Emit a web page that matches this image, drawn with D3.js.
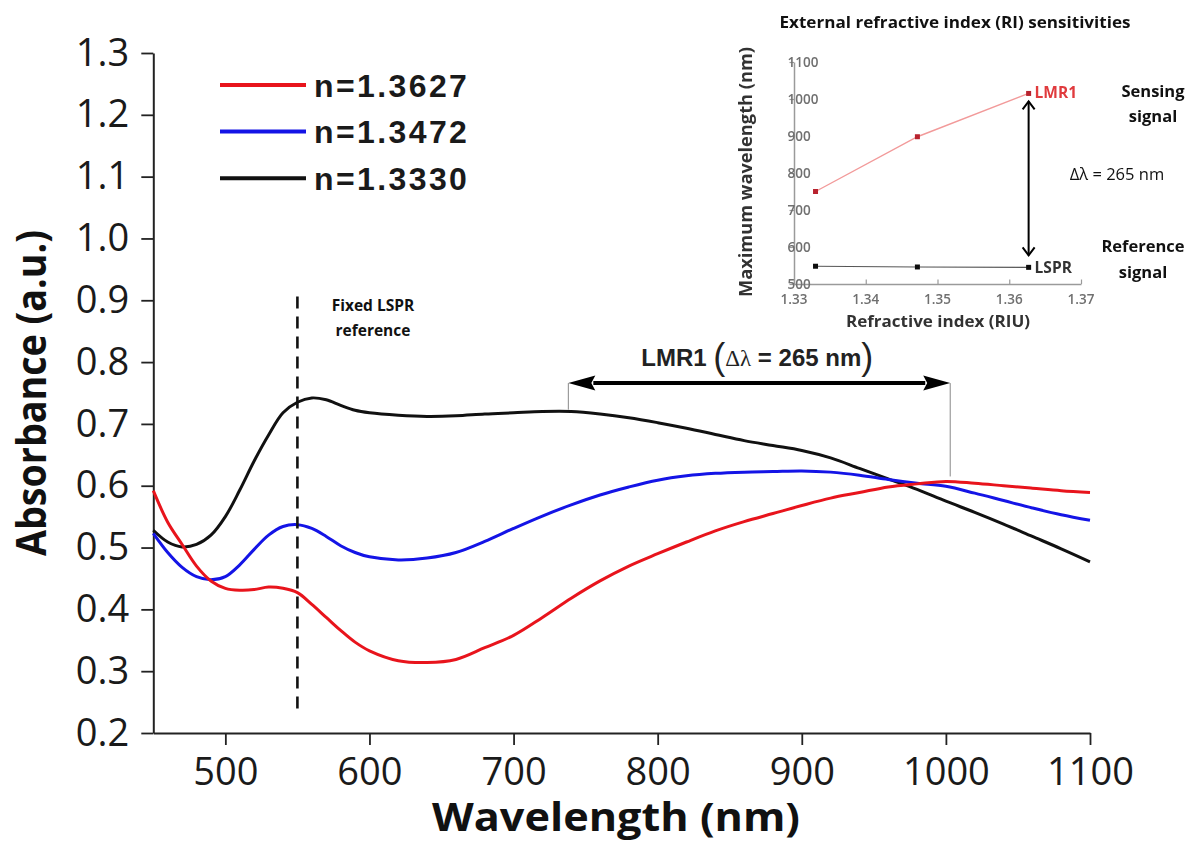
<!DOCTYPE html>
<html>
<head>
<meta charset="utf-8">
<script src="https://cdn.jsdelivr.net/npm/d3@7"></script>
<style>
  html, body { margin: 0; padding: 0; background: #fff; }
  svg { display: block; }
</style>
</head>
<body>
<svg id="chart" width="1188" height="843"></svg>
<script>
// Absorbance spectra of the coated fibre in three external media
const wavelength = [450, 460, 470, 480, 490, 500, 510, 520, 530, 540, 550, 560, 570, 580, 590,
  600, 620, 640, 660, 680, 700, 720, 740, 760, 780, 800, 820, 840, 860, 880, 900,
  920, 940, 960, 980, 1000, 1020, 1040, 1060, 1080, 1100];

const absN13627 = [0.592, 0.541, 0.505, 0.470, 0.446, 0.434, 0.431, 0.432, 0.436, 0.434, 0.427,
  0.408, 0.387, 0.366, 0.347, 0.333, 0.317, 0.314, 0.319, 0.338, 0.358, 0.387, 0.418, 0.446,
  0.470, 0.490, 0.509, 0.527, 0.542, 0.555, 0.568, 0.580, 0.589, 0.598, 0.603, 0.607, 0.604,
  0.600, 0.596, 0.592, 0.589];

const absN13472 = [0.523, 0.492, 0.468, 0.453, 0.448, 0.453, 0.472, 0.497, 0.520, 0.534, 0.537,
  0.531, 0.518, 0.503, 0.492, 0.485, 0.480, 0.483, 0.492, 0.510, 0.531, 0.551, 0.569, 0.585,
  0.598, 0.609, 0.616, 0.620, 0.622, 0.623, 0.624, 0.622, 0.617, 0.610, 0.604, 0.599, 0.588,
  0.576, 0.564, 0.553, 0.544];

const absN13330 = [0.528, 0.509, 0.501, 0.505, 0.520, 0.550, 0.593, 0.640, 0.682, 0.718, 0.735,
  0.742, 0.739, 0.730, 0.722, 0.718, 0.714, 0.712, 0.713, 0.716, 0.718, 0.720, 0.720, 0.716,
  0.710, 0.702, 0.693, 0.683, 0.673, 0.665, 0.657, 0.645, 0.628, 0.611, 0.594, 0.575, 0.557,
  0.538, 0.518, 0.498, 0.477];

const seriesLabels = ["n=1.3627", "n=1.3472", "n=1.3330"];
const seriesColors = ["#e8141c", "#1414e6", "#111111"];
const seriesValues = [absN13627, absN13472, absN13330];

const xTickValues = [500, 600, 700, 800, 900, 1000, 1100];
const yTickValues = [0.2, 0.3, 0.4, 0.5, 0.6, 0.7, 0.8, 0.9, 1.0, 1.1, 1.2, 1.3];

// Reference LSPR line and the LMR1 shift
const lsprReference = 550;
const lmrStart = 738;
const lmrShift = 265;

// Inset: peak wavelength versus refractive index
const riValues = [1.3330, 1.3472, 1.3627];
const lmrPeak = [750, 898, 1015];
const lsprPeak = [548, 546, 545];
const insetXTicks = [1.33, 1.34, 1.35, 1.36, 1.37];
const insetYTicks = [500, 600, 700, 800, 900, 1000, 1100];

const svg = d3.select("#chart");
svg.append("rect").attr("width", 1188).attr("height", 843).attr("fill", "#fff");

const defs = svg.append("defs");
defs.append("filter").attr("id", "soft")
  .attr("x", "-5%").attr("y", "-5%").attr("width", "110%").attr("height", "110%")
  .append("feGaussianBlur").attr("stdDeviation", 0.7);

// ---------- main plot ----------
const x = d3.scaleLinear().domain([450, 1100]).range([153.3, 1090]);
const y = d3.scaleLinear().domain([0.2, 1.3]).range([733, 53]);

const axisColor = "#222";
const tickFont = "'Open Sans', 'DejaVu Sans', sans-serif";

// minor ticks (six intervals per 100 nm, 0.05 on absorbance)
const xMinor = d3.range(450, 1100.01, 100 / 6);
const yMinor = d3.range(0.25, 1.3, 0.1);

const gx = svg.append("g").attr("transform", `translate(0,${y.range()[0]})`);
gx.call(d3.axisBottom(x).tickValues(xMinor).tickSize(7).tickSizeOuter(0).tickFormat(""));
gx.call(d3.axisBottom(x).tickValues(xTickValues).tickSize(12).tickSizeOuter(0).tickPadding(13)
  .tickFormat(d3.format("d")));
gx.selectAll("path.domain").attr("stroke", axisColor).attr("stroke-width", 2);
gx.selectAll(".tick line").attr("stroke", axisColor).attr("stroke-width", 1.8);
gx.selectAll(".tick text").attr("font-family", tickFont).attr("font-size", 38).attr("fill", "#1a1a1a");

const gy = svg.append("g").attr("transform", `translate(${x.range()[0]},0)`);
gy.call(d3.axisLeft(y).tickValues(yMinor).tickSize(7).tickSizeOuter(0).tickFormat(""));
gy.call(d3.axisLeft(y).tickValues(yTickValues).tickSize(12).tickSizeOuter(0).tickPadding(12)
  .tickFormat(d3.format(".1f")));
gy.selectAll("path.domain").attr("stroke", axisColor).attr("stroke-width", 2);
gy.selectAll(".tick line").attr("stroke", axisColor).attr("stroke-width", 1.8);
gy.selectAll(".tick text").attr("font-family", tickFont).attr("font-size", 38).attr("fill", "#1a1a1a");

// axis titles
svg.append("text")
  .attr("transform", `translate(46,${393}) rotate(-90)`)
  .attr("text-anchor", "middle")
  .attr("font-family", tickFont).attr("font-weight", 700).attr("font-size", 41)
  .attr("textLength", 326).attr("lengthAdjust", "spacingAndGlyphs")
  .attr("fill", "#111")
  .text("Absorbance (a.u.)");

svg.append("text")
  .attr("x", 616).attr("y", 831)
  .attr("text-anchor", "middle")
  .attr("font-family", tickFont).attr("font-weight", 700).attr("font-size", 40)
  .attr("textLength", 368).attr("lengthAdjust", "spacingAndGlyphs")
  .attr("fill", "#111")
  .text("Wavelength (nm)");

// spectra
const line = d3.line()
  .x((d, i) => x(wavelength[i]))
  .y(d => y(d))
  .curve(d3.curveCatmullRom.alpha(0.5));

const plot = svg.append("g");
// draw black first so red/blue sit above it
[2, 1, 0].forEach(k => {
  plot.append("path")
    .attr("d", line(seriesValues[k]))
    .attr("fill", "none")
    .attr("stroke", seriesColors[k])
    .attr("stroke-width", 3)
    .attr("stroke-linejoin", "round");
});

// fixed LSPR reference line
svg.append("line")
  .attr("x1", x(lsprReference)).attr("x2", x(lsprReference))
  .attr("y1", y(0.906)).attr("y2", y(0.233))
  .attr("stroke", "#111").attr("stroke-width", 2.6)
  .attr("stroke-dasharray", "12,8");

svg.append("text")
  .attr("x", 373).attr("y", 311)
  .attr("text-anchor", "middle")
  .attr("font-family", tickFont).attr("font-weight", 700).attr("font-size", 15.5)
  .attr("fill", "#111")
  .selectAll("tspan").data(["Fixed LSPR", "reference"]).join("tspan")
  .attr("x", 373).attr("dy", (d, i) => i === 0 ? 0 : 25)
  .text(d => d);

// LMR1 shift arrow
const arrowY = y(0.766);
const ax1 = x(lmrStart), ax2 = x(lmrStart + lmrShift);
svg.append("line").attr("x1", ax1).attr("x2", ax1).attr("y1", arrowY).attr("y2", y(0.723))
  .attr("stroke", "#888").attr("stroke-width", 1);
svg.append("line").attr("x1", ax2).attr("x2", ax2).attr("y1", arrowY).attr("y2", y(0.615))
  .attr("stroke", "#888").attr("stroke-width", 1);
const headL = 27, headW = 7.5;
svg.append("line").attr("x1", ax1 + headL - 2).attr("x2", ax2 - headL + 2)
  .attr("y1", arrowY).attr("y2", arrowY)
  .attr("stroke", "#000").attr("stroke-width", 4);
svg.append("path")
  .attr("d", `M${ax1},${arrowY} L${ax1 + headL},${arrowY - headW} L${ax1 + headL - 4},${arrowY} L${ax1 + headL},${arrowY + headW} Z`)
  .attr("fill", "#000");
svg.append("path")
  .attr("d", `M${ax2},${arrowY} L${ax2 - headL},${arrowY - headW} L${ax2 - headL + 4},${arrowY} L${ax2 - headL},${arrowY + headW} Z`)
  .attr("fill", "#000");

const lmrLabel = svg.append("text")
  .attr("x", (ax1 + ax2) / 2 - 2).attr("y", arrowY - 17)
  .attr("text-anchor", "middle")
  .attr("font-family", "'Liberation Sans', Arial, sans-serif")
  .attr("fill", "#222");
lmrLabel.append("tspan").attr("font-weight", 700).attr("font-size", 24).text("LMR1 ");
lmrLabel.append("tspan").attr("font-size", 36).attr("dy", 3).text("(");
lmrLabel.append("tspan").attr("font-family", "'Liberation Serif', 'DejaVu Serif', serif")
  .attr("font-size", 23).attr("dy", -3).text("\u0394\u03bb");
lmrLabel.append("tspan").attr("font-weight", 700).attr("font-size", 24).text(` = ${lmrShift} nm`);
lmrLabel.append("tspan").attr("font-size", 36).attr("dy", 3).text(")");

// legend
const legend = svg.append("g");
seriesLabels.forEach((lab, i) => {
  const ly = 85 + i * 46.6;
  legend.append("line").attr("x1", 220).attr("x2", 306).attr("y1", ly).attr("y2", ly)
    .attr("stroke", seriesColors[i]).attr("stroke-width", 4);
  legend.append("text").attr("x", 314).attr("y", ly + 11.5)
    .attr("font-family", "'Liberation Sans', Arial, sans-serif")
    .attr("font-weight", 700).attr("font-size", 32).attr("letter-spacing", 2.4)
    .attr("fill", "#1a1a1a")
    .text(lab);
});

// ---------- inset ----------
const ix = d3.scaleLinear().domain([1.33, 1.37]).range([794, 1081]);
const iy = d3.scaleLinear().domain([500, 1100]).range([284, 62]);

const inset = svg.append("g").attr("filter", "url(#soft)");
const insetAxisColor = "#9a9a9a";
const insetTickColor = "#6f6f6f";

const igx = inset.append("g").attr("transform", `translate(0,${iy.range()[0]})`);
igx.call(d3.axisTop(ix).tickValues(d3.range(1.335, 1.37, 0.01)).tickSize(2.5).tickSizeOuter(0).tickFormat(""));
igx.call(d3.axisTop(ix).tickValues(insetXTicks).tickSize(4.5).tickSizeOuter(0).tickFormat(""));
igx.call(g => g.selectAll(".tick line").attr("stroke", insetAxisColor).attr("stroke-width", 1.2));
igx.selectAll("path.domain").attr("stroke", insetAxisColor).attr("stroke-width", 1.5);
igx.selectAll(".lbl").data(insetXTicks).join("text")
  .attr("class", "lbl")
  .attr("x", d => ix(d)).attr("y", 19.5)
  .attr("text-anchor", "middle")
  .attr("font-family", tickFont).attr("font-weight", 600).attr("font-size", 13.5).attr("fill", insetTickColor)
  .text(d => d3.format(".2f")(d));

const igy = inset.append("g").attr("transform", `translate(${ix.range()[0]},0)`);
igy.call(d3.axisRight(iy).tickValues(d3.range(550, 1100, 100)).tickSize(2.5).tickSizeOuter(0).tickFormat(""));
igy.call(d3.axisLeft(iy).tickValues(insetYTicks).tickSize(4.5).tickSizeOuter(0).tickPadding(2)
  .tickFormat(d3.format("d")));
igy.selectAll("path.domain").attr("stroke", insetAxisColor).attr("stroke-width", 1.5);
igy.selectAll(".tick line").attr("stroke", insetAxisColor).attr("stroke-width", 1.2);
igy.selectAll(".tick text").attr("font-family", tickFont).attr("font-weight", 600)
  .attr("font-size", 13.5).attr("fill", insetTickColor);

inset.append("text")
  .attr("transform", `translate(752,172) rotate(-90)`)
  .attr("text-anchor", "middle")
  .attr("font-family", tickFont).attr("font-weight", 700).attr("font-size", 17)
  .attr("textLength", 250).attr("lengthAdjust", "spacingAndGlyphs")
  .attr("fill", "#333")
  .text("Maximum wavelength (nm)");

inset.append("text")
  .attr("x", 938).attr("y", 327)
  .attr("text-anchor", "middle")
  .attr("font-family", tickFont).attr("font-weight", 700).attr("font-size", 16.5)
  .attr("textLength", 184).attr("lengthAdjust", "spacingAndGlyphs")
  .attr("fill", "#333")
  .text("Refractive index (RIU)");

const iline = d3.line().x((d, i) => ix(riValues[i])).y(d => iy(d));
inset.append("path").attr("d", iline(lmrPeak)).attr("fill", "none")
  .attr("stroke", "#f29a9a").attr("stroke-width", 1.4);
inset.append("path").attr("d", iline(lsprPeak)).attr("fill", "none")
  .attr("stroke", "#555").attr("stroke-width", 1.2);
inset.selectAll(".mk-lmr").data(lmrPeak).join("rect").attr("class", "mk-lmr")
  .attr("x", (d, i) => ix(riValues[i]) - 2.5).attr("y", d => iy(d) - 2.5)
  .attr("width", 5).attr("height", 5).attr("fill", "#b8242e");
inset.selectAll(".mk-lspr").data(lsprPeak).join("rect").attr("class", "mk-lspr")
  .attr("x", (d, i) => ix(riValues[i]) - 2.5).attr("y", d => iy(d) - 2.5)
  .attr("width", 5).attr("height", 5).attr("fill", "#111");

inset.append("text")
  .attr("x", ix(riValues[2]) + 6).attr("y", iy(lmrPeak[2]) + 5)
  .attr("font-family", tickFont).attr("font-weight", 700).attr("font-size", 15.5)
  .attr("fill", "#e03a3e").text("LMR1");
inset.append("text")
  .attr("x", ix(riValues[2]) + 6).attr("y", iy(lsprPeak[2]) + 5.5)
  .attr("font-family", tickFont).attr("font-weight", 700).attr("font-size", 15.5)
  .attr("fill", "#333").text("LSPR");

// vertical double arrow between the two peaks
const vx = ix(riValues[2]);
const vTop = iy(lmrPeak[2]) + 8, vBot = iy(lsprPeak[2]) - 12;
svg.append("line").attr("x1", vx).attr("x2", vx).attr("y1", vTop).attr("y2", vBot)
  .attr("stroke", "#000").attr("stroke-width", 2);
svg.append("path").attr("d", `M${vx - 6},${vTop + 8} L${vx},${vTop} L${vx + 6},${vTop + 8}`)
  .attr("fill", "none").attr("stroke", "#000").attr("stroke-width", 2);
svg.append("path").attr("d", `M${vx - 6},${vBot - 8} L${vx},${vBot} L${vx + 6},${vBot - 8}`)
  .attr("fill", "none").attr("stroke", "#000").attr("stroke-width", 2);

// inset annotations
const noteFont = "'Open Sans', 'DejaVu Sans', sans-serif";
svg.append("text").attr("x", 955).attr("y", 28).attr("text-anchor", "middle")
  .attr("font-family", noteFont).attr("font-weight", 700).attr("font-size", 15.5)
  .attr("textLength", 351).attr("lengthAdjust", "spacingAndGlyphs")
  .attr("fill", "#111").text("External refractive index (RI) sensitivities");

svg.append("text").attr("x", 1117).attr("y", 180).attr("text-anchor", "middle")
  .attr("font-family", noteFont).attr("font-size", 16.5).attr("fill", "#111")
  .text(`\u0394\u03bb = ${lmrShift} nm`);

svg.append("text").attr("text-anchor", "middle")
  .attr("font-family", noteFont).attr("font-weight", 700).attr("font-size", 16.5)
  .attr("fill", "#111")
  .selectAll("tspan").data(["Sensing", "signal"]).join("tspan")
  .attr("x", 1153).attr("y", (d, i) => 97 + i * 25).text(d => d);

svg.append("text").attr("text-anchor", "middle")
  .attr("font-family", noteFont).attr("font-weight", 700).attr("font-size", 16.5)
  .attr("fill", "#111")
  .selectAll("tspan").data(["Reference", "signal"]).join("tspan")
  .attr("x", 1143).attr("y", (d, i) => 252 + i * 26).text(d => d);
</script>
</body>
</html>
